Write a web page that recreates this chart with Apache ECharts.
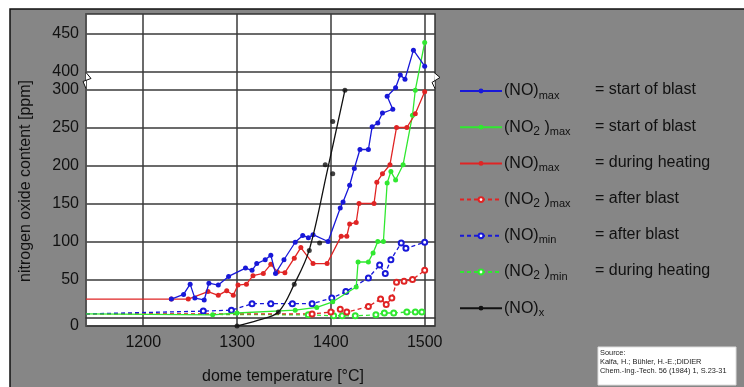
<!DOCTYPE html>
<html><head><meta charset="utf-8">
<script src="https://cdn.jsdelivr.net/npm/echarts@6/dist/echarts.min.js"></script>
<style>html,body{margin:0;padding:0;background:#fff}#c{width:744px;height:387px}</style>
</head><body><div id="c"></div><script>
// ---------- data (ppm vs. dome temperature °C) ----------
const yTickValues = [0, 50, 100, 150, 200, 250, 300, 400, 450];
const xTickValues = [1200, 1300, 1400, 1500];

const noMaxStartT = [1230,1243,1250,1255,1265,1270,1280,1291,1309,1316,1321,1330,1336,1341,1350,1362,1370,1376,1381,1397,1410,1413,1420,1425,1431,1440,1444,1450,1455,1466,1460,1469,1474,1479,1488,1500];
const noMaxStartV = [29,34,45,30,28,46,44,54,65,62,71,76,82,58,76,99,108,105,109,100,144,152,174,196,221,221,251,256,269,274,291,310,380,357,428,407];

const no2MaxStartT = [1139,1274,1300,1362,1385,1402,1427,1429,1440,1445,1450,1456,1460,1464,1469,1477,1487,1490,1500];
const no2MaxStartV = [13,12,14,17,20,26,42,73,73,85,100,100,177,192,181,201,266,299,438];

const noMaxHeatT = [1139,1230,1248,1269,1280,1289,1296,1301,1310,1317,1328,1336,1343,1351,1361,1368,1381,1396,1411,1417,1420,1427,1430,1446,1449,1455,1463,1470,1481,1490,1500];
const noMaxHeatV = [29,29,29,37,33,38,33,44,45,55,58,70,60,59,78,92,71,71,107,107,123,125,150,150,178,189,201,250,250,268,297];

const no2MaxAfterT = [1139,1380,1400,1410,1417,1440,1453,1459,1465,1470,1478,1487,1500];
const no2MaxAfterV = [13,13,15,18,15,21,29,23,30,47,48,50,62];

const noMinAfterT = [1139,1264,1294,1316,1336,1359,1380,1401,1416,1440,1452,1458,1464,1475,1480,1500];
const noMinAfterV = [13,16,17,24,24,24,24,30,37,52,69,58,76,98,91,99];

const no2MinHeatT = [1139,1376,1403,1412,1426,1448,1457,1467,1481,1490,1497];
const no2MinHeatV = [13,12,11,11,11,12,14,14,15,15,15];

const noxCurveT = [1300,1322,1344,1361,1377,1396,1415];
const noxCurveV = [0,6,15,45,89,192,299];
const noxPointsT = [1300,1344,1361,1377,1388,1394,1402,1402,1415];
const noxPointsV = [0,15,45,88,98,201,189,258,299];

const legendNames = ['noMaxStart','no2MaxStart','noMaxHeat','no2MaxAfter','noMinAfter','no2MinHeat','nox'];
const legendLabels = [
  '{a|(NO)}{s|max}', '{a|(NO}{t|2}{a| )}{s|max}', '{a|(NO)}{s|max}', '{a|(NO}{t|2}{a| )}{s|max}',
  '{a|(NO)}{s|min}', '{a|(NO}{t|2}{a| )}{s|min}', '{a|(NO)}{s|x}'
];
const legendMeaning = ['= start of blast','= start of blast','= during heating','= after blast','= after blast','= during heating',''];
const sourceLines = ['Source:', 'Kalfa, H.; Bühler, H.-E.;DIDIER', 'Chem.-Ing.-Tech. 56 (1984) 1, S.23-31'];

// ---------- broken y scale (0–50 band drawn taller, 300–400 cut out) ----------
const LOW_STRETCH = 46.5 / 38;
const BREAK_GAP = 23.7;
function toAxis(v) {
  if (v < 50) return 50 - (50 - v) * LOW_STRETCH;
  if (v <= 300) return v;
  if (v < 400) return 300 + (v - 300) * BREAK_GAP / 100;
  return v - 100 + BREAK_GAP;
}
const yTickPos = yTickValues.map(toAxis);

const FONT = '"Liberation Sans", Arial, sans-serif';
const BLUE = '#1818d8', GREEN = '#30e830', RED = '#e02424', BLACK = '#111111';

function pairs(T, V, edge) {
  return T.map((t, i) => {
    const p = [t, toAxis(V[i])];
    return (edge && i === 0) ? { value: p, symbol: 'none' } : p;
  });
}
function lineSeries(name, data, color, dashed, opts) {
  return Object.assign({
    name, type: 'line', data,
    symbol: 'circle', symbolSize: 5, showAllSymbol: true,
    lineStyle: { color, width: 1.3, type: dashed ? [4, 3] : 'solid' },
    itemStyle: { color },
    emphasis: { disabled: true }, animation: false
  }, opts || {});
}

const chart = echarts.init(document.getElementById('c'));
const option = {
  backgroundColor: '#ffffff',
  animation: false,
  grid: { left: 86, top: 14, right: 309, bottom: 61, show: true, backgroundColor: '#ffffff', borderColor: '#333', borderWidth: 1.5 },
  xAxis: {
    type: 'value', min: 1139, max: 1511,
    axisLine: { show: true, lineStyle: { color: '#333', width: 1.5 } },
    axisTick: { show: false, customValues: xTickValues },
    axisLabel: { customValues: xTickValues, fontSize: 16, color: '#111', fontFamily: FONT, margin: 9,
      formatter: (v) => String(Math.round(v)) },
    splitLine: { show: true, lineStyle: { color: '#3a3a3a', width: 1.5 } }
  },
  yAxis: {
    type: 'value', min: toAxis(0), max: 399.3,
    axisLine: { show: true, lineStyle: { color: '#555', width: 1.5 } },
    axisTick: { show: false, customValues: yTickPos },
    axisLabel: {
      customValues: yTickPos, fontSize: 16, color: '#111', fontFamily: FONT, margin: 7,
      formatter: (val) => {
        let best = 0;
        yTickPos.forEach((p, i) => { if (Math.abs(p - val) < Math.abs(yTickPos[best] - val)) best = i; });
        return String(yTickValues[best]);
      }
    },
    splitLine: { show: true, lineStyle: { color: '#3a3a3a', width: 1.5 } }
  },
  legend: {
    left: 459, top: 83, padding: 0, orient: 'vertical', itemWidth: 42, itemHeight: 6, itemGap: 18.2,
    selectedMode: false, data: legendNames,
    formatter: (name) => legendLabels[legendNames.indexOf(name)],
    textStyle: {
      color: '#111', fontFamily: FONT, padding: [0, 0, 0, -3],
      rich: {
        a: { fontSize: 16, lineHeight: 20, fontFamily: FONT, color: '#111' },
        s: { fontSize: 11, lineHeight: 12, verticalAlign: 'bottom', fontFamily: FONT, color: '#111' },
        t: { fontSize: 12, lineHeight: 14, verticalAlign: 'bottom', fontFamily: FONT, color: '#111' }
      }
    }
  },
  series: [
    lineSeries('no2MinHeat', pairs(no2MinHeatT, no2MinHeatV, true), GREEN, true, { symbol: 'emptyCircle', z: 2 }),
    lineSeries('no2MaxAfter', pairs(no2MaxAfterT, no2MaxAfterV, true), RED, true, { symbol: 'emptyCircle', z: 2 }),
    lineSeries('noMinAfter', pairs(noMinAfterT, noMinAfterV, true), BLUE, true, { symbol: 'emptyCircle', z: 2 }),
    lineSeries('no2MaxStart', pairs(no2MaxStartT, no2MaxStartV, true), GREEN, false, { z: 3 }),
    lineSeries('noMaxHeat', pairs(noMaxHeatT, noMaxHeatV, true), RED, false, { z: 3 }),
    lineSeries('noMaxStart', pairs(noMaxStartT, noMaxStartV, false), BLUE, false, { z: 4 }),
    lineSeries('nox', pairs(noxCurveT, noxCurveV, false), BLACK, false, { smooth: 0.35, showSymbol: false, symbol: 'circle', z: 5 }),
    {
      name: 'nox', type: 'scatter', data: pairs(noxPointsT, noxPointsV, false),
      symbol: 'circle', symbolSize: 5, itemStyle: { color: BLACK }, z: 6, emphasis: { disabled: true }
    }
  ]
};
chart.setOption(option);

// ---------- decorations: frame, titles, legend meanings, source box, break marks ----------
const g = [];
g.push({ type: 'rect', z: -100, shape: { x: 10, y: 9, width: 740, height: 385 },
  style: { fill: '#868686', stroke: '#111', lineWidth: 1.5 } });
g.push({ type: 'text', x: 283, y: 377, style: { text: 'dome temperature [°C]', font: '16px ' + FONT, fill: '#111', align: 'center', verticalAlign: 'middle' } });
g.push({ type: 'text', x: 26, y: 181, rotation: Math.PI / 2, style: { text: 'nitrogen oxide content [ppm]', font: '16px ' + FONT, fill: '#111', align: 'center', verticalAlign: 'middle' } });
legendMeaning.forEach((t, i) => {
  if (t) g.push({ type: 'text', x: 595, y: 90 + i * 36.2, style: { text: t, font: '16px ' + FONT, fill: '#111', align: 'left', verticalAlign: 'middle' } });
});
g.push({ type: 'rect', shape: { x: 598, y: 347, width: 138, height: 38 }, style: { fill: '#ffffff', stroke: '#dddddd', lineWidth: 1 } });
sourceLines.forEach((t, i) => {
  g.push({ type: 'text', x: 600, y: 352.7 + i * 9, style: { text: t, font: '7.4px ' + FONT, fill: '#222', align: 'left', verticalAlign: 'middle' } });
});
const p300 = chart.convertToPixel({ gridIndex: 0 }, [1139, toAxis(300)]);
const p400 = chart.convertToPixel({ gridIndex: 0 }, [1511, toAxis(400)]);
const lx = p300[0], rx = p400[0], yTop = p400[1], yBot = p300[1];
g.push({ type: 'polyline', z: 50, shape: { points: [[lx, yTop + 1], [lx + 5, yTop + 7], [lx - 3, yBot - 8], [lx, yBot - 1]] },
  style: { stroke: '#111', fill: '#ffffff', lineWidth: 1 } });
g.push({ type: 'polyline', z: 50, shape: { points: [[rx - 1, yTop + 1], [rx + 5, yTop + 6], [rx - 3, yBot - 7], [rx, yBot - 1]] },
  style: { stroke: '#111', fill: '#ffffff', lineWidth: 1 } });
chart.setOption({ graphic: g });
</script></body></html>
